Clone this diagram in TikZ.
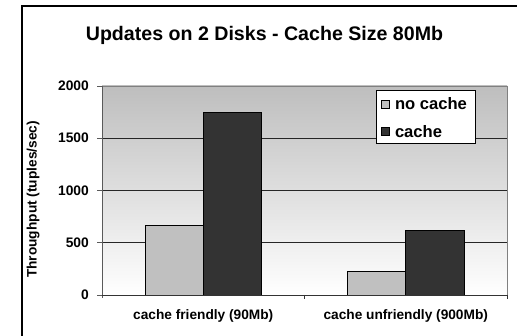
\documentclass[tikz,border=0pt]{standalone}
\usepackage{fontspec}
\setmainfont{Liberation Sans}
\usetikzlibrary{positioning}
\definecolor{barlight}{RGB}{192,192,192}
\definecolor{bardark}{RGB}{51,51,51}
\definecolor{plotgray}{RGB}{190,190,190}
\definecolor{axisgray}{RGB}{128,128,128}

\begin{document}
\begin{tikzpicture}[
    x=1pt, y=-1pt,
    every node/.style={inner sep=0pt},
    titlefont/.style={font=\fontsize{19.6}{22}\selectfont\bfseries},
    ticklabel/.style={anchor=east, font=\fontsize{13.8}{16}\selectfont\bfseries},
    catlabel/.style={font=\fontsize{13.7}{16}\selectfont\bfseries},
    legendtext/.style={anchor=west, font=\fontsize{16.6}{19}\selectfont\bfseries},
    nocachebar/.style={draw=black, fill=barlight, line width=0.9pt},
    cachebar/.style={draw=black, fill=bardark, line width=0.9pt},
    gridline/.style={black!85, line width=0.8pt},
    legendkey/.style={rectangle, draw=black, minimum size=8pt, line width=0.6pt}
]
    \useasboundingbox (0,0) rectangle (517,336);

    % chart frame
    \draw[line width=1.5pt] (22,336) -- (22,6) -- (517,6);
    \node (title) [titlefont] at (264.5,35) {Updates on 2 Disks - Cache Size 80Mb};

    % plot area
    \shade[top color=plotgray, bottom color=white] (102,86) rectangle (507,295);
    \draw[axisgray, line width=0.8pt] (102,86) -- (507,86) -- (507,295);
    \foreach \v/\y in {500/242.75, 1000/190.5, 1500/138.25}
        \draw[gridline] (102,\y) -- (507,\y);

    % value axis
    \draw[axisgray!70!black, line width=0.9pt] (102,86) -- (102,298);
    \foreach \v/\y in {0/295, 500/242.75, 1000/190.5, 1500/138.25, 2000/86} {
        \draw[axisgray!70!black, line width=0.9pt] (97,\y) -- (102,\y);
        \node (tick\v) [ticklabel] at (89,\y) {\v};
    }
    \node (ylabel) [catlabel, rotate=90] at (33,199.5) {Throughput (tuples/sec)};

    % bars
    \draw[nocachebar] (145,295) rectangle (203.25,225.3);
    \draw[cachebar] (203.25,295) rectangle (261.5,112.7);
    \draw[nocachebar] (347.5,295) rectangle (405.75,271.3);
    \draw[cachebar] (405.75,295) rectangle (464,230);

    % category axis
    \draw[black!80, line width=0.9pt] (102,295) -- (507,295);
    \foreach \x in {304.5, 507}
        \draw[black!80, line width=0.9pt] (\x,295) -- (\x,299);
    \node (catfriendly) [catlabel] at (203.25,316) {cache friendly (90Mb)};
    \node (catunfriendly) [catlabel] at (405.75,316) {cache unfriendly (900Mb)};

    % legend
    \node (legend) [draw=black, fill=white, line width=0.8pt, minimum width=99pt, minimum height=53pt] at (425.5,116.5) {};
    \node (keynocache) [legendkey, fill=barlight] at (385.5,104) {};
    \node (keycache) [legendkey, fill=bardark] at (385.5,131.5) {};
    \node (txtnocache) [legendtext, right=5pt of keynocache] {no cache};
    \node (txtcache) [legendtext, right=5pt of keycache] {cache};

\end{tikzpicture}
\end{document}
